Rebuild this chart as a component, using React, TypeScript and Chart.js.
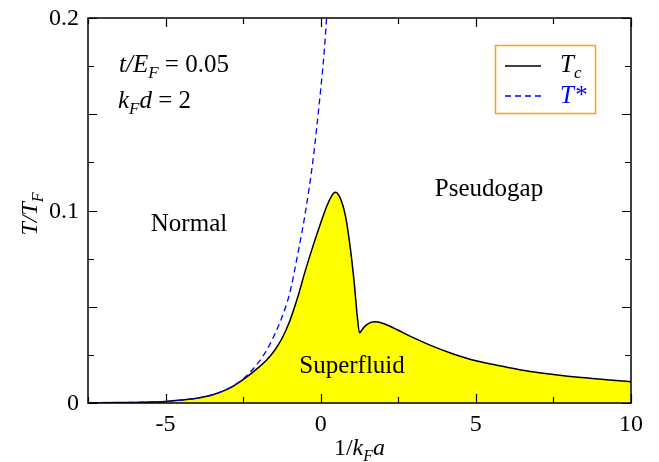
import React, { useEffect, useRef } from "react";
import { Chart, registerables } from "chart.js";

Chart.register(...registerables);

// Tc curve (black, filled yellow)
const tcX = [-7.5, -6.5, -6, -5.5, -5, -4.5, -4, -3.5, -3, -2.5, -2, -1.75, -1.5, -1.25, -1.0, -0.75, -0.5, -0.25, 0, 0.2, 0.35, 0.46, 0.6, 0.8, 0.95, 1.08, 1.18, 1.25, 1.32, 1.42, 1.58, 1.77, 2.1, 2.5, 3.0, 3.5, 4.25, 5.0, 6.0, 6.75, 7.5, 8.4, 9.2, 10];
const tcY = [0.0001, 0.0002, 0.0003, 0.0005, 0.0008, 0.0015, 0.0025, 0.0042, 0.0072, 0.0122, 0.0185, 0.0222, 0.027, 0.0335, 0.0425, 0.0545, 0.0685, 0.0815, 0.0935, 0.1025, 0.1075, 0.1095, 0.1075, 0.097, 0.081, 0.0625, 0.0448, 0.0365, 0.0378, 0.0398, 0.0416, 0.0422, 0.0408, 0.0378, 0.0338, 0.0302, 0.0256, 0.0219, 0.0186, 0.0164, 0.0148, 0.0132, 0.0121, 0.0111];

// T* curve (blue dashed)
const tsX = [-7.5, -6.5, -6, -5.5, -5, -4.5, -4, -3.5, -3, -2.5, -2.25, -2, -1.75, -1.5, -1.25, -1.0, -0.75, -0.5, -0.25, 0, 0.1, 0.19];
const tsY = [0.0001, 0.0002, 0.0003, 0.0005, 0.0008, 0.0015, 0.0025, 0.0042, 0.0073, 0.0125, 0.0165, 0.0212, 0.0272, 0.035, 0.0445, 0.057, 0.0765, 0.0985, 0.126, 0.163, 0.18, 0.2];

const xMajorTicks = [-5, 0, 5, 10];
const xMinorTicks = [-7.5, -2.5, 2.5, 7.5];
const yLabelTicks = [0, 0.1, 0.2];
const yMajorTicks = [0, 0.05, 0.1, 0.15, 0.2];
const yMinorTicks = [0.025, 0.075, 0.125, 0.175];

const SERIF = '"Liberation Serif", "DejaVu Serif", "Times New Roman", serif';

type Part = { t: string; it?: boolean; sub?: boolean };

function drawRich(ctx: CanvasRenderingContext2D, parts: Part[], x: number, y: number, size: number, align: "left" | "center", color: string) {
  const subSize = Math.round(size * 0.68);
  const fontOf = (p: Part) => `${p.it ? "italic " : ""}${p.sub ? subSize : size}px ${SERIF}`;
  let total = 0;
  for (const p of parts) {
    ctx.font = fontOf(p);
    total += ctx.measureText(p.t).width;
  }
  let cx = align === "center" ? x - total / 2 : x;
  ctx.fillStyle = color;
  ctx.textBaseline = "alphabetic";
  ctx.textAlign = "left";
  for (const p of parts) {
    ctx.font = fontOf(p);
    ctx.fillText(p.t, cx, p.sub ? y + size * 0.24 : y);
    cx += ctx.measureText(p.t).width;
  }
}

const decorPlugin = {
  id: "decor",
  afterDraw(chart: any) {
    const ctx: CanvasRenderingContext2D = chart.ctx;
    const { left, right, top, bottom } = chart.chartArea;
    const xs = chart.scales.x;
    const ys = chart.scales.y;
    ctx.save();
    ctx.strokeStyle = "#000";
    ctx.lineWidth = 1.5;
    ctx.strokeRect(left, top, right - left, bottom - top);
    ctx.lineWidth = 1.2;
    ctx.beginPath();
    const tick = (vals: number[], len: number, axis: "x" | "y") => {
      for (const v of vals) {
        if (axis === "x") {
          const px = Math.round(xs.getPixelForValue(v)) + 0.5;
          ctx.moveTo(px, bottom); ctx.lineTo(px, bottom - len);
          ctx.moveTo(px, top); ctx.lineTo(px, top + len);
        } else {
          const py = Math.round(ys.getPixelForValue(v)) + 0.5;
          ctx.moveTo(left, py); ctx.lineTo(left + len, py);
          ctx.moveTo(right, py); ctx.lineTo(right - len, py);
        }
      }
    };
    tick(xMajorTicks, 9, "x");
    tick(xMinorTicks, 6, "x");
    tick(yMajorTicks, 9, "y");
    tick(yMinorTicks, 6, "y");
    ctx.stroke();

    // tick labels
    ctx.fillStyle = "#000";
    ctx.font = `24px ${SERIF}`;
    ctx.textBaseline = "middle";
    ctx.textAlign = "center";
    for (const v of xMajorTicks) {
      ctx.fillText(String(v), xs.getPixelForValue(v), bottom + 22);
    }
    ctx.textAlign = "right";
    for (const v of yLabelTicks) {
      ctx.fillText(String(v), left - 9, ys.getPixelForValue(v) + 1);
    }

    // axis titles
    drawRich(ctx, [{ t: "1/" }, { t: "k", it: true }, { t: "F", it: true, sub: true }, { t: "a", it: true }], (left + right) / 2, 455, 24, "center", "#000");
    ctx.save();
    ctx.translate(37, 214);
    ctx.rotate(-Math.PI / 2);
    drawRich(ctx, [{ t: "T/T", it: true }, { t: "F", it: true, sub: true }], 0, 0, 24, "center", "#000");
    ctx.restore();

    // annotations
    drawRich(ctx, [{ t: "t/E", it: true }, { t: "F", it: true, sub: true }, { t: " = 0.05" }], 119, 71.5, 25, "left", "#000");
    drawRich(ctx, [{ t: "k", it: true }, { t: "F", it: true, sub: true }, { t: "d", it: true }, { t: " = 2" }], 118, 108, 25, "left", "#000");
    drawRich(ctx, [{ t: "Normal" }], 189, 231, 25, "center", "#000");
    drawRich(ctx, [{ t: "Pseudogap" }], 489, 196, 25, "center", "#000");
    drawRich(ctx, [{ t: "Superfluid" }], 352, 373, 25, "center", "#000");

    // legend
    ctx.strokeStyle = "#FFA500";
    ctx.lineWidth = 1.5;
    ctx.strokeRect(495.5, 45.5, 100, 68);
    ctx.strokeStyle = "#000";
    ctx.lineWidth = 1.5;
    ctx.beginPath();
    ctx.moveTo(505, 66); ctx.lineTo(541, 66);
    ctx.stroke();
    ctx.strokeStyle = "#0000ff";
    ctx.setLineDash([6, 4]);
    ctx.beginPath();
    ctx.moveTo(505, 96); ctx.lineTo(541, 96);
    ctx.stroke();
    ctx.setLineDash([]);
    drawRich(ctx, [{ t: "T", it: true }, { t: "c", it: true, sub: true }], 560, 72, 25, "left", "#000");
    drawRich(ctx, [{ t: "T*", it: true }], 560, 103, 25, "left", "#0000ff");
    ctx.restore();
  },
};

export default function App() {
  const ref = useRef<HTMLCanvasElement | null>(null);
  useEffect(() => {
    document.body.style.margin = "0";
    const canvas = ref.current;
    if (!canvas) return;
    const chart = new Chart(canvas, {
      type: "line",
      data: {
        datasets: [
          {
            label: "T*",
            data: tsX.map((x, i) => ({ x, y: tsY[i] })),
            borderColor: "#0000ff",
            borderWidth: 1.3,
            borderDash: [6, 4],
            pointRadius: 0,
            fill: false,
            cubicInterpolationMode: "monotone",
          },
          {
            label: "Tc",
            data: tcX.map((x, i) => ({ x, y: tcY[i] })),
            borderColor: "#000000",
            borderWidth: 1.5,
            pointRadius: 0,
            fill: "origin",
            backgroundColor: "#ffff00",
            cubicInterpolationMode: "monotone",
          },
        ],
      },
      options: {
        animation: false,
        responsive: false,
        devicePixelRatio: 1,
        layout: { padding: { left: 88, right: 28, top: 18, bottom: 59 } },
        plugins: { legend: { display: false }, tooltip: { enabled: false } },
        scales: {
          x: { type: "linear", min: -7.5, max: 10, display: false },
          y: { type: "linear", min: 0, max: 0.2, display: false },
        },
      },
      plugins: [decorPlugin],
    } as any);
    return () => chart.destroy();
  }, []);
  return (
    <div style={{ width: 659, height: 462, background: "#fff" }}>
      <canvas ref={ref} width={659} height={462} />
    </div>
  );
}
